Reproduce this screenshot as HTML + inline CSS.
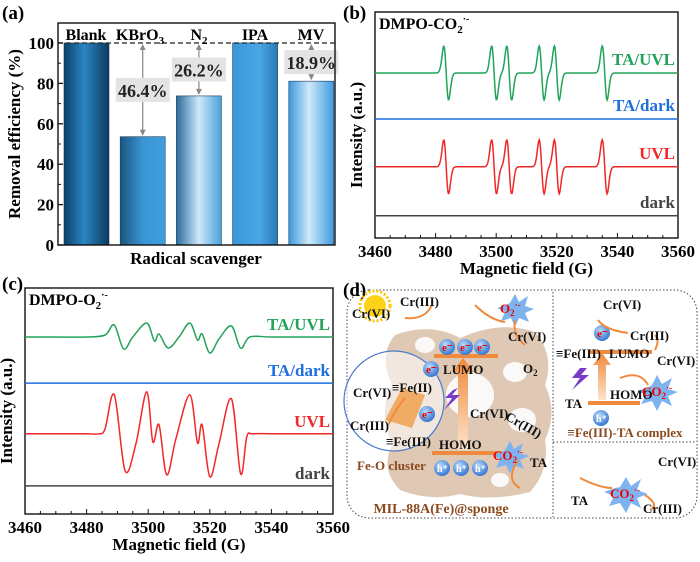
<!DOCTYPE html>
<html><head><meta charset="utf-8"><style>
html,body{margin:0;padding:0;background:#fff;}
svg{display:block;font-family:"Liberation Serif",serif;font-weight:bold;}
</style></head><body>
<svg id="fig" width="700" height="562" viewBox="0 0 700 562" xmlns="http://www.w3.org/2000/svg">
<defs>
<linearGradient id="gDark" x1="0" x2="1"><stop offset="0" stop-color="#0b3f66"/><stop offset="0.45" stop-color="#2a86c4"/><stop offset="1" stop-color="#0c3a5e"/></linearGradient>
<linearGradient id="gMid" x1="0" x2="1"><stop offset="0" stop-color="#1b557f"/><stop offset="0.5" stop-color="#3a95d3"/><stop offset="1" stop-color="#3f9fe0"/></linearGradient>
<linearGradient id="gLight" x1="0" x2="1"><stop offset="0" stop-color="#2b6c9c"/><stop offset="0.5" stop-color="#cde8fa"/><stop offset="1" stop-color="#4aa2dc"/></linearGradient>
<linearGradient id="gIPA" x1="0" x2="1"><stop offset="0" stop-color="#3b96d6"/><stop offset="0.6" stop-color="#4aa6e6"/><stop offset="1" stop-color="#2a7ab6"/></linearGradient>
<linearGradient id="gMV" x1="0" x2="1"><stop offset="0" stop-color="#3c98dc"/><stop offset="0.45" stop-color="#cfe9fb"/><stop offset="1" stop-color="#3f9be0"/></linearGradient>
<linearGradient id="gArrow" x1="0" y1="1" x2="0" y2="0"><stop offset="0" stop-color="#fde3cc"/><stop offset="1" stop-color="#f08a3c"/></linearGradient>
<radialGradient id="gBall" cx="0.4" cy="0.35" r="0.7"><stop offset="0" stop-color="#bcdcf8"/><stop offset="1" stop-color="#2d6fd0"/></radialGradient>
</defs>

<g id="panelA"></g>
<g id="panelB"></g>
<g id="panelC"></g>

<g font-size="13">
  <text x="343" y="296" font-size="19">(d)</text>
  <rect x="347" y="290" width="350" height="228" rx="22" fill="none" stroke="#444" stroke-dasharray="1.5,2"/>
  <line x1="553" y1="292" x2="553" y2="517" stroke="#444" stroke-dasharray="1.5,2"/>
  <line x1="553" y1="442" x2="696" y2="442" stroke="#444" stroke-dasharray="1.5,2"/>
  <g fill="#c9a583" opacity="0.6">
    <path d="M395 335 Q430 322 460 338 Q500 320 535 332 Q555 355 545 385 Q558 412 545 440 Q550 470 530 492 Q490 502 460 494 Q430 502 400 490 Q380 470 392 445 Q378 410 392 385 Q378 355 395 335 Z"/>
  </g>
  <g fill="#fff" opacity="0.9">
    <ellipse cx="470" cy="395" rx="24" ry="22"/><ellipse cx="515" cy="372" rx="12" ry="10"/><ellipse cx="522" cy="420" rx="14" ry="12"/><ellipse cx="425" cy="345" rx="10" ry="8"/><ellipse cx="500" cy="480" rx="9" ry="7"/>
  </g>
  <circle cx="375" cy="306" r="11" fill="#ffd21a"/>
  <circle cx="375" cy="306" r="15" fill="none" stroke="#ffc400" stroke-width="3" stroke-dasharray="2,2"/>
  <circle cx="394" cy="401" r="50" fill="rgba(255,255,255,0.55)" stroke="#4a7cc8" stroke-width="1.2"/>
  <path d="M385 420 L402 388 L425 395 L412 428 Z" fill="#f0a050" opacity="0.85"/>
  <rect x="434" y="354" width="64" height="4" fill="#f08a3c"/>
  <rect x="432" y="451" width="70" height="4" fill="#f08a3c"/>
  <path d="M458 450 L458 372 L452 372 L463 358 L474 372 L468 372 L468 450 Z" fill="url(#gArrow)"/>
  <path d="M453 390 L445 398 L452 398 L444 410 L460 395 L452 395 L458 388 Z" fill="#7a3cc8"/>
  <g fill="url(#gBall)">
    <circle cx="447" cy="347" r="8"/><circle cx="465" cy="347" r="8"/><circle cx="482" cy="347" r="8"/><circle cx="431" cy="369" r="8"/><circle cx="427" cy="414" r="8"/>
    <circle cx="442" cy="468" r="8"/><circle cx="461" cy="468" r="8"/><circle cx="480" cy="468" r="8"/>
    <circle cx="602" cy="333" r="8"/><circle cx="601" cy="418" r="8"/>
  </g>
  <g fill="#e00" font-size="11"><text x="442" y="351">e⁻</text><text x="460" y="351">e⁻</text><text x="477" y="351">e⁻</text><text x="426" y="373">e⁻</text><text x="422" y="418">e⁻</text><text x="597" y="337">e⁻</text></g>
  <g fill="#fff" font-size="10"><text x="437" y="472">h⁺</text><text x="456" y="472">h⁺</text><text x="475" y="472">h⁺</text><text x="596" y="422">h⁺</text></g>
  <polygon points="510,303 515,294 519,302 528,296 525,306 534,309 525,313 529,322 519,318 515,327 511,318 501,321 505,312 497,308 506,305" fill="#7fb3ef"/>
  <polygon points="505,450 510,441 514,449 523,443 520,453 529,456 520,460 524,469 514,465 510,474 506,465 496,468 500,459 492,455 501,452" fill="#7fb3ef"/>
  <polygon points="652,385 657,375 662,384 672,378 668,389 678,392 668,396 672,406 662,401 657,411 652,401 641,404 646,395 637,391 647,388" fill="#7fb3ef"/>
  <polygon points="620,487 626,477 631,486 641,479 637,490 648,494 637,498 641,508 631,503 626,513 620,503 609,506 614,496 604,492 615,488" fill="#7fb3ef"/>
  <rect x="590" y="350" width="62" height="4" fill="#f08a3c"/>
  <rect x="588" y="401" width="52" height="4" fill="#f08a3c"/>
  <path d="M598 400 L598 365 L593 365 L602 353 L611 365 L606 365 L606 400 Z" fill="url(#gArrow)"/>
  <path d="M580 368 L572 378 L580 378 L572 390 L589 375 L581 375 L587 368 Z" fill="#7a3cc8"/>
  <g fill="none" stroke="#f08a3c" stroke-width="2">
    <path d="M405 318 Q425 320 432 305"/><path d="M475 305 Q490 320 505 322"/><path d="M525 345 Q512 335 515 320"/>
    <path d="M518 460 Q505 480 520 488"/><path d="M598 320 Q605 330 628 333"/><path d="M655 350 Q660 340 655 335"/><path d="M620 378 Q640 370 648 385"/>
    <path d="M580 478 Q600 488 612 488"/><path d="M645 495 Q660 505 650 510"/><path d="M405 398 Q395 410 388 425"/>
  </g>
  <g fill="#111">
    <text x="352" y="318">Cr(VI)</text><text x="400" y="306">Cr(III)</text><text x="508" y="341">Cr(VI)</text><text x="523" y="373">O<tspan font-size="9" dy="3">2</tspan></text>
    <text x="443" y="374">LUMO</text><text x="392" y="392">≡Fe(II)</text><text x="353" y="397">Cr(VI)</text><text x="350" y="430">Cr(III)</text><text x="386" y="446">≡Fe(III)</text>
    <text x="439" y="449">HOMO</text><text x="470" y="418">Cr(VI)</text><text x="503" y="425" transform="rotate(30 515 425)">Cr(III)</text><text x="530" y="467">TA</text>
    <text x="603" y="309">Cr(VI)</text><text x="630" y="340">Cr(III)</text><text x="556" y="358">≡Fe(III)</text><text x="609" y="358">LUMO</text><text x="657" y="365">Cr(VI)</text>
    <text x="565" y="408">TA</text><text x="610" y="399">HOMO</text>
    <text x="658" y="466">Cr(VI)</text><text x="571" y="505">TA</text><text x="643" y="513">Cr(III)</text>
  </g>
  <g fill="#e00"><text x="500" y="313">O<tspan font-size="9" dy="3">2</tspan><tspan font-size="9" dy="-8">·-</tspan></text><text x="493" y="460">CO<tspan font-size="9" dy="3">2</tspan><tspan font-size="9" dy="-8">·-</tspan></text>
  <text x="642" y="396">CO<tspan font-size="9" dy="3">2</tspan><tspan font-size="9" dy="-8">·-</tspan></text><text x="610" y="498">CO<tspan font-size="9" dy="3">2</tspan><tspan font-size="9" dy="-8">·-</tspan></text></g>
  <text x="357" y="470" fill="#8b4a1e">Fe-O cluster</text>
  <text x="625" y="437" fill="#8b4a1e" text-anchor="middle">≡Fe(III)-TA complex</text>
  <text x="441" y="513" fill="#8b4a1e" text-anchor="middle" font-size="14">MIL-88A(Fe)@sponge</text>
</g>
</svg>

<script>
var NS='http://www.w3.org/2000/svg';
function mk(parent,tag,attrs,text){var e=document.createElementNS(NS,tag);for(var k in attrs)e.setAttribute(k,attrs[k]);if(text!==undefined)e.textContent=text;parent.appendChild(e);return e;}
function addSpan(t,str,size,dy){var s=document.createElementNS(NS,'tspan');s.textContent=str;if(size)s.setAttribute('font-size',size);if(dy)s.setAttribute('dy',dy);t.appendChild(s);return s;}

/* ---------- Panel A data ---------- */
const aCategories=['Blank','KBrO3','N2','IPA','MV'];
const aValues=[100,53.6,73.8,100,81.1];
const aDropLabels=['','46.4%','26.2%','','18.9%'];
const aTicks=[0,20,40,60,80,100];
const aFills=['url(#gDark)','url(#gMid)','url(#gLight)','url(#gIPA)','url(#gMV)'];

/* ---------- Panel B data ---------- */
const bLineCenters=[3483.5,3499.3,3504.3,3515.0,3520.0,3535.8];
const bSeries=['TA/UVL','TA/dark','UVL','dark'];
const bAmplitudes=[27,0,27,0];
const bBaselines=[3.87,2.79,1.67,0.52];
const bColors=['#22a35a','#1f6fe0','#f02828','#444'];
const xTicks=[3460,3480,3500,3520,3540,3560];

/* ---------- Panel C data ---------- */
const cSeries=['TA/UVL','TA/dark','UVL','dark'];
const cRedField=[3460,3470,3480,3484,3486,3489,3492.5,3496,3499.5,3501.5,3503.5,3506,3509,3513.5,3516,3517.5,3520,3523,3527,3530,3532,3534,3540,3550,3560];
const cRedInt=[0,0,0,0,5,39,-37,-10,42,-8,9,-41,-5,39,-9,9,-43,-10,35,-40,-3,0,0,0,0];
const cGreenField=[3460,3470,3480,3486,3489,3492,3495,3499.5,3502,3503.5,3506.5,3510,3513.5,3516,3517.5,3520,3523,3527,3530,3533,3540,3550,3560];
const cGreenInt=[0,0,0,2,12,-12,0,14,-4,3,-11,0,14,-3,3,-16,-2,11,-11,0,0,0,0];
const cBaselines=[4.15,3.07,1.88,0.66];

/* ===== Panel A ===== */
try{(function(){
 var g=document.getElementById('panelA');
 var L=58,R=335,T=23,B=245;
 var y=function(v){return B-(v/100)*202;};
 var bw=45,step=56.2,first=64;
 mk(g,'text',{x:2,y:19,'font-size':19,},'(a)');
 aValues.forEach(function(v,i){
  var x0=first+i*step;
  var r=mk(g,'rect',{x:x0,y:y(v),width:bw,height:B-y(v),fill:aFills[i],stroke:'#1b3a55','stroke-width':0.6});
  
  
 });
 mk(g,'line',{x1:L,y1:y(100),x2:R,y2:y(100),stroke:'#222','stroke-dasharray':'5,3','stroke-width':1.2,});
 aValues.forEach(function(v,i){
  if(!aDropLabels[i])return;
  var cx=first+i*step+bw/2;
  var ln=mk(g,'line',{x1:cx,y1:y(100)+2,x2:cx,y2:y(v)-2,stroke:'#888','stroke-width':1.2});
  
  
  mk(g,'polygon',{points:(cx-3)+','+(y(100)+7)+' '+(cx+3)+','+(y(100)+7)+' '+cx+','+(y(100)+1),fill:'#888'});
  mk(g,'polygon',{points:(cx-3)+','+(y(v)-7)+' '+(cx+3)+','+(y(v)-7)+' '+cx+','+(y(v)-1),fill:'#888'});
  var ly=y((100+v)/2);
  var bx=mk(g,'rect',{x:cx-27,y:ly-12,width:54,height:24,fill:'#e3e3e3'});
  
  
  var t=mk(g,'text',{x:cx,y:ly+7,'text-anchor':'middle','font-size':18,fill:'#222'},aDropLabels[i]);
  
  
 });
 mk(g,'rect',{x:L,y:T,width:R-L,height:B-T,fill:'none',stroke:'#111','stroke-width':1.4,});
 aTicks.forEach(function(v){
  mk(g,'line',{x1:L,y1:y(v),x2:L+5,y2:y(v),stroke:'#111','stroke-width':1.3});
  if(v<100)mk(g,'line',{x1:L,y1:y(v+10),x2:L+3,y2:y(v+10),stroke:'#111'});
  var t=mk(g,'text',{x:L-4,y:y(v)+6,'text-anchor':'end','font-size':17},String(v));
  
  
 });
 var mains=['Blank','KBrO','N','IPA','MV'];
 var subs=['','3','2','',''];
 var nx=[86,140,199,255,311];
 mains.forEach(function(n,i){
  var t=mk(g,'text',{x:nx[i],y:40,'text-anchor':'middle','font-size':16});
  addSpan(t,n);
  if(subs[i])addSpan(t,subs[i],11,4);
  
  
 });
 mk(g,'text',{x:196,y:264,'text-anchor':'middle','font-size':17,},'Radical scavenger');
 mk(g,'text',{x:0,y:0,'text-anchor':'middle','font-size':17,transform:'translate(20,134) rotate(-90)',},'Removal efficiency (%)');
})();}catch(e){console.log(e);}

function eprAxes(g,L,R,T,B,mainTitle,ylabX,prefix){
 var x=function(f){return L+(f-3460)/100*(R-L);};
 mk(g,'rect',{x:L,y:T,width:R-L,height:B-T,fill:'none',stroke:'#111','stroke-width':1.4,});
 for(var f=3460;f<=3560;f+=5){var big=f%20===0;mk(g,'line',{x1:x(f),y1:B,x2:x(f),y2:B-(big?5:3),stroke:'#111'});}
 xTicks.forEach(function(f){var t=mk(g,'text',{x:x(f),y:B+19,'text-anchor':'middle','font-size':17},String(f));
  });
 mk(g,'text',{x:(L+R)/2,y:B+36,'text-anchor':'middle','font-size':17,},'Magnetic field (G)');
 mk(g,'text',{x:0,y:0,'text-anchor':'middle','font-size':17,transform:'translate('+ylabX+','+((T+B)/2+10)+') rotate(-90)',},'Intensity (a.u.)');
 var tt=mk(g,'text',{x:L+4,y:T+17,'font-size':16,});
 addSpan(tt,mainTitle);
 addSpan(tt,'2',11,4);
 addSpan(tt,'·-',10,-11);
 return x;
}
function smoothPath(pts){
 var d='M'+pts[0][0].toFixed(1)+' '+pts[0][1].toFixed(1);
 for(var i=0;i<pts.length-1;i++){
  var p0=i>0?pts[i-1]:pts[i],p1=pts[i],p2=pts[i+1],p3=(i+2<pts.length)?pts[i+2]:p2;
  var c1x=p1[0]+(p2[0]-p0[0])/6,c1y=p1[1]+(p2[1]-p0[1])/6;
  var c2x=p2[0]-(p3[0]-p1[0])/6,c2y=p2[1]-(p3[1]-p1[1])/6;
  d+='C'+c1x.toFixed(1)+' '+c1y.toFixed(1)+' '+c2x.toFixed(1)+' '+c2y.toFixed(1)+' '+p2[0].toFixed(1)+' '+p2[1].toFixed(1);
 }
 return d;
}

/* ===== Panel B ===== */
try{(function(){
 var g=document.getElementById('panelB');
 var L=375,R=678,T=12,B=238;
 mk(g,'text',{x:343,y:19,'font-size':19,},'(b)');
 var x=eprAxes(g,L,R,T,B,'DMPO-CO',362,'panel-b');
 var unit=(B-T)/5.3;
 bSeries.forEach(function(s,si){
  var base=B-bBaselines[si]*unit,A=bAmplitudes[si];
  var d='';
  for(var f=3460;f<=3560.01;f+=0.2){
   var v=0;
   bLineCenters.forEach(function(c){var u=(f-c)/0.8;v+=-u*Math.exp(-u*u/2)*1.65;});
   d+=(d?'L':'M')+x(f).toFixed(1)+' '+(base-A*v).toFixed(1);
  }
  var p=mk(g,'path',{d:d,fill:'none',stroke:bColors[si],'stroke-width':1.5});
  
  
  var t=mk(g,'text',{x:R-3,y:base-8,'text-anchor':'end','font-size':17,fill:bColors[si]},s);
  
  
 });
})();}catch(e){console.log(e);}

/* ===== Panel C ===== */
try{(function(){
 var g=document.getElementById('panelC');
 var L=25,R=333,T=288,B=514;
 mk(g,'text',{x:2,y:290,'font-size':19,},'(c)');
 var x=eprAxes(g,L,R,T,B,'DMPO-O',12,'panel-c');
 var unit=(B-T)/5.3;
 var sets=[[cGreenField,cGreenInt],null,[cRedField,cRedInt],null];
 cSeries.forEach(function(s,si){
  var base=B-cBaselines[si]*unit;
  var d;
  if(sets[si]){
   var F=sets[si][0],I=sets[si][1];
   d=smoothPath(F.map(function(f,k){return [x(f),base-I[k]];}));
  } else {
   d='M'+x(3460)+' '+base+'L'+x(3560)+' '+base;
  }
  var p=mk(g,'path',{d:d,fill:'none',stroke:bColors[si],'stroke-width':1.5,'stroke-linejoin':'round'});
  
  
  var t=mk(g,'text',{x:R-3,y:base-7,'text-anchor':'end','font-size':17,fill:bColors[si]},s);
  
  
 });
})();}catch(e){console.log(e);}
</script>
</body></html>
